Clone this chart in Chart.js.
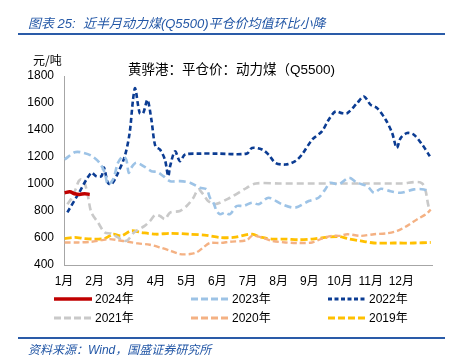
<!DOCTYPE html>
<html><head><meta charset="utf-8">
<script src="https://cdn.jsdelivr.net/npm/chart.js@4/dist/chart.umd.min.js"></script>
<style>
html,body{margin:0;padding:0;background:#fff;}
body{width:455px;height:364px;position:relative;overflow:hidden;font-family:'Liberation Sans','Noto Sans CJK SC',sans-serif;}
#c{position:absolute;left:0;top:0;}
.t{position:absolute;white-space:nowrap;}
#title{left:28px;top:13px;font-size:13px;font-style:italic;color:#2357A6;}
#src{left:28px;top:340px;font-size:12px;font-style:italic;color:#2357A6;}
.rule{position:absolute;left:18px;width:427px;height:2px;background:#2A5BA8;}
#unit{left:33px;top:51px;font-size:12px;color:#000;font-family:'Noto Sans CJK SC',sans-serif;}
#sub{left:128px;top:58px;font-size:13.5px;color:#000;}
.lg{position:absolute;font-size:12px;color:#000;height:14px;line-height:14px;width:90px;white-space:nowrap;}
.lg svg{position:absolute;left:0;top:0;}
.lg span{position:absolute;left:41px;top:0;white-space:nowrap;}
</style></head>
<body>
<canvas id="c" width="455" height="364"></canvas>
<div class="t" id="title">图表 25:&nbsp; 近半月动力煤(Q5500)平仓价均值环比小降</div>
<div class="rule" style="top:33px"></div>
<div class="t" id="unit">元/吨</div>
<div class="t" id="sub">黄骅港：平仓价：动力煤（Q5500)</div>
<div id="legend"></div>
<div class="rule" style="top:337px"></div>
<div class="t" id="src">资料来源：Wind，国盛证券研究所</div>
<script>
// month ticks
const monthLabels = ['1月','2月','3月','4月','5月','6月','7月','8月','9月','10月','11月','12月'];
const yTicks = [400,600,800,1000,1200,1400,1600,1800];

// series (x = position in year, in months from Jan 1; y = 元/吨)
const x2024 = [0.02,0.19,0.35,0.51,0.67,0.84];
const y2024 = [935,942,928,923,928,923];

const x2023 = [0.02,0.35,0.56,0.89,1.16,1.33,1.43,1.60,1.76,1.92,2.03,2.11,2.19,2.36,2.63,2.85,3.05,3.24,3.46,3.78,4.11,4.43,4.65,4.76,4.87,4.98,5.09,5.25,5.41,5.63,5.85,6.13,6.35,6.67,7.11,7.54,7.98,8.30,8.52,8.68,8.96,9.29,9.56,9.89,10.11,10.33,10.65,10.98,11.41,11.74,11.90];
const y2023 = [1181,1235,1235,1210,1157,1083,997,1034,1157,1205,1181,1083,1120,1157,1127,1095,1088,1058,1021,1021,1009,972,960,898,862,800,776,788,776,837,837,862,850,898,850,825,874,898,960,1009,997,1046,1009,984,935,965,947,935,960,960,935];

const x2022 = [0.11,0.46,0.89,1.05,1.22,1.30,1.43,1.54,1.71,1.98,2.14,2.25,2.32,2.47,2.58,2.72,2.85,2.98,3.13,3.29,3.40,3.46,3.62,3.78,3.95,4.43,5.00,5.96,6.13,6.46,6.67,6.89,7.22,7.54,7.76,8.09,8.41,8.63,8.85,9.06,9.24,9.56,9.78,10.00,10.21,10.49,10.70,10.85,10.98,11.19,11.41,11.68,11.93];
const y2022 = [790,923,1083,1058,1058,1122,1009,997,1058,1205,1378,1623,1709,1525,1525,1623,1476,1279,1255,1181,1058,1132,1242,1169,1218,1225,1225,1225,1267,1255,1218,1157,1144,1169,1218,1328,1390,1476,1537,1525,1525,1599,1648,1586,1562,1476,1378,1267,1341,1378,1365,1292,1205];

const x2021 = [0.11,0.29,0.48,0.56,0.67,0.78,0.89,1.11,1.33,1.54,1.76,1.98,2.08,2.30,2.63,2.80,2.97,3.13,3.29,3.46,3.78,4.00,4.22,4.38,4.54,4.70,4.92,5.41,5.96,6.26,7.00,8.00,9.00,10.00,11.00,11.68,11.90,11.96];
const y2021 = [850,911,1021,1034,1009,911,790,714,641,633,604,579,585,645,690,725,770,763,740,788,800,837,898,960,923,874,850,898,972,1004,1004,1004,1004,1004,1004,1004,825,810];

const x2020 = [0.02,0.46,0.89,1.22,1.49,1.76,2.09,2.41,2.80,3.13,3.46,3.78,4.11,4.33,4.54,4.76,5.09,5.41,5.96,6.13,6.46,6.78,7.22,7.65,8.09,8.41,8.74,9.00,9.24,9.67,10.11,10.54,10.87,11.19,11.52,11.80,11.96];
const y2020 = [567,567,572,584,592,584,572,560,550,530,506,481,481,494,530,563,563,572,584,616,604,579,567,563,567,596,616,616,628,616,628,635,653,690,739,776,810];

const x2019 = [0.02,0.35,0.67,1.00,1.33,1.60,1.87,2.19,2.52,3.00,3.46,4.11,4.65,5.09,5.52,5.96,6.13,6.46,6.78,7.22,7.65,8.09,8.52,8.96,9.24,9.67,10.11,10.76,11.41,11.96];
const y2019 = [596,604,596,592,596,628,616,653,641,628,635,628,620,604,604,625,628,604,592,592,587,592,604,611,596,579,563,563,563,567];

const seriesNames = ['2024年','2023年','2022年','2021年','2020年','2019年'];
const seriesX = [x2024,x2023,x2022,x2021,x2020,x2019];
const seriesY = [y2024,y2023,y2022,y2021,y2020,y2019];
const colors = ['#C00000','#9DC3E6','#0B3C93','#C9C9C9','#F4B183','#FFC000'];
const widths = [3.5,2.6,2.6,2.6,2.4,2.8];
const dashes = [[],[7,4],[5,3],[7,4],[6,3],[7,3]];
const legendDash = ['',"7 3","4 2.5","7 3","7 3","7 3"];

const datasets = seriesNames.map((n,i)=>({
  label:n,
  data: seriesX[i].map((x,k)=>({x:x,y:seriesY[i][k]})),
  borderColor:colors[i], backgroundColor:colors[i],
  borderWidth:widths[i], borderDash:dashes[i],
  pointRadius:0, tension:0.3, fill:false, order:i
}));

Chart.defaults.font.family = "'Liberation Sans','Noto Sans CJK SC',sans-serif";
Chart.defaults.font.size = 12;
Chart.defaults.color = '#000';

new Chart(document.getElementById('c'), {
  type:'line',
  data:{datasets},
  options:{
    responsive:false, animation:false,
    layout:{padding:{left:0,top:76,right:23,bottom:69}},
    plugins:{legend:{display:false},tooltip:{enabled:false}},
    scales:{
      x:{type:'linear',min:0,max:12,
         afterBuildTicks:(s)=>{s.ticks = monthLabels.map((m,i)=>({value:i}));},
         afterFit:(s)=>{s.height=30;},
         ticks:{padding:9,autoSkip:false,maxRotation:0,callback:(v)=>monthLabels[v]||''},
         grid:{display:false,drawTicks:false},
         border:{color:'#A6A6A6',width:1}},
      y:{min:400,max:1800,
         afterBuildTicks:(s)=>{s.ticks = yTicks.map(v=>({value:v}));},
         afterFit:(s)=>{s.width=64;},
         ticks:{padding:10,callback:(v)=>String(v)},
         grid:{display:false,drawTicks:false},
         border:{color:'#A6A6A6',width:1}}
    }
  }
});

// legend
const lgPos = [[54,292],[191,292],[328,292],[54,311],[191,311],[328,311]];
const lg = document.getElementById('legend');
seriesNames.forEach((n,i)=>{
  const d = document.createElement('div');
  d.className='lg';
  d.style.left=lgPos[i][0]+'px'; d.style.top=lgPos[i][1]+'px';
  d.innerHTML = '<svg width="38" height="14"><line x1="0" y1="7" x2="38" y2="7" stroke="'+colors[i]+'" stroke-width="'+(i===0?3.5:2.8)+'"'+(legendDash[i]?' stroke-dasharray="'+legendDash[i]+'"':'')+'/></svg><span>'+n+'</span>';
  lg.appendChild(d);
});
</script>
</body></html>
